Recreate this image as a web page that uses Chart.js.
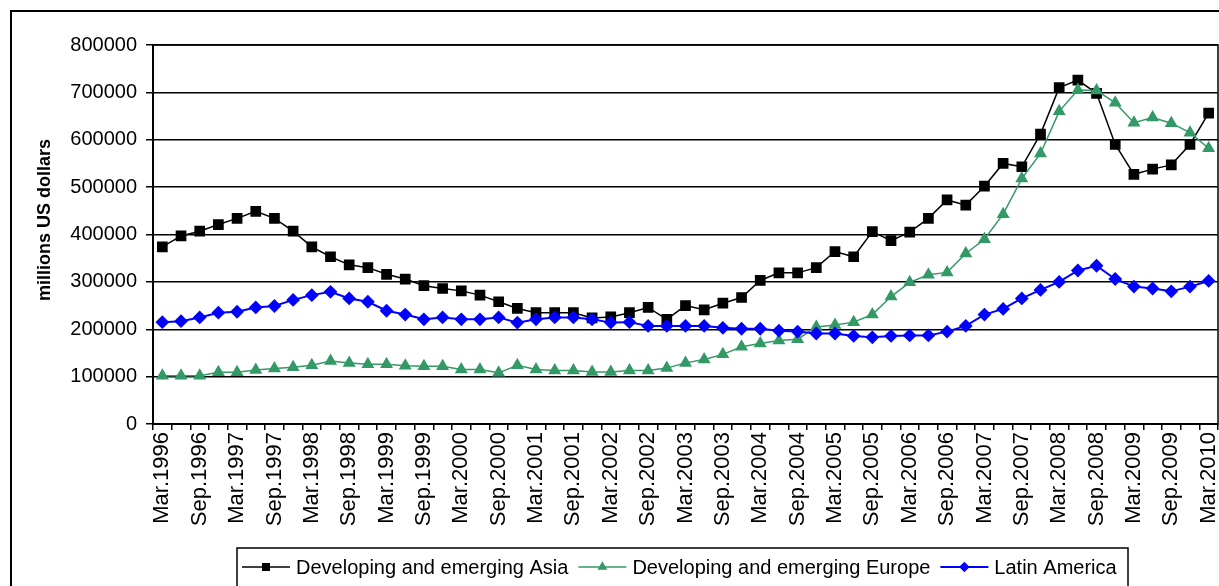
<!DOCTYPE html>
<html>
<head>
<meta charset="utf-8">
<script src="https://cdn.jsdelivr.net/npm/chart.js@4.4.1/dist/chart.umd.min.js"></script>
<style>
  html, body { margin: 0; padding: 0; background: #fff; overflow: hidden; }
  #wrap { position: relative; width: 1219px; height: 586px; }
</style>
</head>
<body>
<div id="wrap"><canvas id="chart" width="1219" height="586"></canvas></div>
<script>
// quarterly, Mar.1996 .. Mar.2010
const years = [1996, 1997, 1998, 1999, 2000, 2001, 2002, 2003, 2004, 2005, 2006, 2007, 2008, 2009, 2010];
const quarters = ["Mar.", "Jun.", "Sep.", "Dec."];

const asia = [374000, 397000, 407000, 421000, 434000, 449000, 434000, 407000, 374000, 353000,
  336000, 330000, 316000, 306000, 292000, 286000, 281000, 272000, 258000, 244000,
  235000, 235000, 235000, 224000, 226000, 235000, 246000, 221000, 250000, 241000,
  255000, 267000, 303000, 319000, 319000, 330000, 364000, 353000, 406000, 387000,
  405000, 434000, 473000, 462000, 502000, 550000, 543000, 612000, 710000, 726000,
  698000, 590000, 527000, 538000, 547000, 590000, 656000];

const europe = [102000, 102000, 102000, 109000, 109000, 114000, 117000, 120000, 124000, 133000,
  129000, 126000, 126000, 123000, 122000, 122000, 115000, 115000, 108000, 124000,
  115000, 113000, 113000, 110000, 110000, 113000, 113000, 118000, 129000, 136000,
  147000, 163000, 170000, 176000, 179000, 205000, 209000, 215000, 231000, 269000,
  299000, 315000, 320000, 360000, 390000, 443000, 518000, 571000, 660000, 705000,
  704000, 678000, 636000, 647000, 635000, 615000, 582000];

const latin = [215000, 217000, 225000, 235000, 237000, 246000, 249000, 262000, 272000, 279000,
  265000, 258000, 239000, 231000, 221000, 225000, 221000, 221000, 225000, 214000,
  221000, 225000, 225000, 221000, 214000, 215000, 207000, 207000, 207000, 207000,
  203000, 201000, 201000, 197000, 195000, 191000, 191000, 186000, 183000, 186000,
  187000, 187000, 195000, 207000, 231000, 243000, 265000, 283000, 300000, 324000,
  334000, 306000, 290000, 286000, 280000, 290000, 302000];

const seriesNames = ["Developing and emerging Asia", "Developing and emerging Europe", "Latin America"];
const yTicks = [0, 100000, 200000, 300000, 400000, 500000, 600000, 700000, 800000];
const yTitle = "millions US dollars";

const categories = [];
years.forEach(y => quarters.forEach(q => categories.push(q + y)));
categories.length = asia.length;

const FONT = '"Liberation Sans", Arial, sans-serif';

// frame, plot border, y title and the boxed legend
const extras = {
  id: 'extras',
  afterDraw(chart) {
    const c = chart.ctx, a = chart.chartArea;
    c.save();
    c.strokeStyle = '#000';
    c.lineWidth = 2;
    c.strokeRect(11, 11, 1400, 800);
    c.lineWidth = 1.5;
    c.strokeRect(a.left, a.top, a.right - a.left, a.bottom - a.top);

    c.save();
    c.translate(45, 220);
    c.rotate(-Math.PI / 2);
    c.font = 'bold 18px ' + FONT;
    c.fillStyle = '#000';
    c.textAlign = 'center';
    c.textBaseline = 'middle';
    c.fillText(yTitle, 0, 0);
    c.restore();

    // legend
    c.lineWidth = 1.5;
    c.strokeRect(237, 548, 891, 80);
    c.font = '20px ' + FONT;
    c.textBaseline = 'middle';
    c.textAlign = 'left';
    let x = 242;
    const ly = 567;
    chart.data.datasets.forEach(ds => {
      c.strokeStyle = ds.borderColor;
      c.lineWidth = ds.borderWidth;
      c.beginPath();
      c.moveTo(x, ly);
      c.lineTo(x + 48, ly);
      c.stroke();
      c.fillStyle = ds.backgroundColor;
      Chart.helpers.drawPoint(c, { pointStyle: ds.pointStyle, radius: ds.pointRadius * 0.7, rotation: 0, borderWidth: 1 }, x + 24, ly);
      c.fillStyle = '#000';
      c.fillText(ds.label, x + 54, ly + 1);
      x += 54 + c.measureText(ds.label).width + 10;
    });
    c.restore();
  }
};

new Chart(document.getElementById('chart'), {
  type: 'line',
  data: {
    labels: categories,
    datasets: [
      { label: seriesNames[0], data: asia, borderColor: '#000000', backgroundColor: '#000000',
        borderWidth: 1.5, pointStyle: 'rect', pointRadius: 6.5, order: 3 },
      { label: seriesNames[1], data: europe, borderColor: '#339966', backgroundColor: '#339966',
        borderWidth: 1.5, pointStyle: 'triangle', pointRadius: 6, order: 2 },
      { label: seriesNames[2], data: latin, borderColor: '#0000ff', backgroundColor: '#0000ff',
        borderWidth: 2, pointStyle: 'rectRot', pointRadius: 5.5, order: 1 }
    ]
  },
  options: {
    responsive: false,
    animation: false,
    events: [],
    layout: { autoPadding: false, padding: { top: 45, right: 1, left: 0, bottom: 0 } },
    elements: { line: { tension: 0 }, point: { borderWidth: 1 } },
    plugins: { legend: { display: false }, tooltip: { enabled: false } },
    scales: {
      x: {
        offset: true,
        grid: { offset: true, drawOnChartArea: false, drawTicks: true, tickLength: 6, color: '#000', lineWidth: 1.5 },
        border: { color: '#000', width: 2 },
        ticks: {
          autoSkip: false, maxRotation: 90, minRotation: 90, padding: 2, color: '#000',
          font: { family: FONT, size: 22 },
          callback: (v, i) => (i % 2 === 0 ? categories[i] : '')
        },
        afterFit: s => { s.height = 162; s.paddingLeft = 0; s.paddingRight = 0; }
      },
      y: {
        min: yTicks[0],
        max: yTicks[yTicks.length - 1],
        afterBuildTicks: s => { s.ticks = yTicks.map(v => ({ value: v })); },
        grid: { color: '#000', lineWidth: 1.5, tickLength: 7 },
        border: { color: '#000', width: 2 },
        ticks: { padding: 9, color: '#000', font: { family: FONT, size: 20 }, callback: v => String(v) },
        afterFit: s => { s.width = 153; s.paddingTop = 0; s.paddingBottom = 0; }
      }
    }
  },
  plugins: [extras]
});
</script>
</body>
</html>
